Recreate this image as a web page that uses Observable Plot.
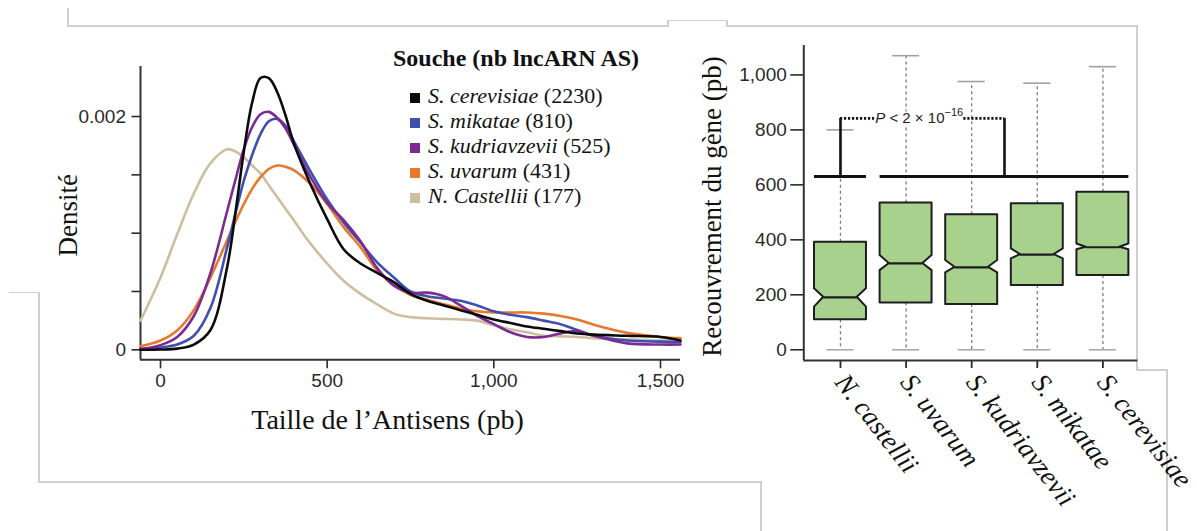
<!DOCTYPE html>
<html><head><meta charset="utf-8">
<script src="https://cdn.jsdelivr.net/npm/d3@7"></script>
<script src="https://cdn.jsdelivr.net/npm/@observablehq/plot@0.6"></script>
<style>
body{margin:0;background:#fff;}
#root{position:relative;width:1197px;height:531px;overflow:hidden;background:#fff;font-family:"Liberation Serif","Times New Roman",serif;color:#111;}
.seg{position:absolute;background:#cfcfcf;}
#left,#right{position:absolute;top:0;}
#left{left:0;}
#right{left:680px;}
#legend{position:absolute;left:393px;top:46px;}
#legend .title{font-weight:bold;font-size:24px;line-height:24px;white-space:nowrap;margin-bottom:13px;}
#legend .row{font-size:22px;line-height:25px;white-space:nowrap;padding-left:17px;}
#legend .sw{display:inline-block;width:10px;height:10px;margin-right:8px;}
#legend i{font-style:italic;}
</style></head><body>
<div id="root"><div id="left"></div><div id="right"></div><div id="legend"></div></div>
<script>
// ---------- Left panel: density of antisense lncRNA length ----------
const lengthGrid = [-60, 0, 50, 100, 150, 200, 225, 250, 275, 300, 325, 350, 375, 400, 450, 500, 550, 600, 650, 700, 750, 800, 850, 900, 950, 1000, 1050, 1100, 1150, 1200, 1250, 1300, 1400, 1500, 1560];
const strains = ["S. cerevisiae", "S. mikatae", "S. kudriavzevii", "S. uvarum", "N. Castellii"];
const strainCounts = [2230, 810, 525, 431, 177];
const strainColors = ["#0b0b0b", "#3f4fae", "#7b2a93", "#e8782c", "#cdbf9e"];
const densityCerevisiae = [0, 0.000002, 0.00001, 0.000045, 0.00017, 0.00071, 0.00118, 0.0017, 0.00212, 0.00233, 0.00233, 0.00221, 0.00201, 0.00177, 0.00142, 0.00112, 0.00086, 0.00074, 0.00066, 0.00058, 0.00048, 0.00042, 0.00038, 0.00034, 0.0003, 0.00026, 0.00023, 0.0002, 0.00018, 0.00016, 0.00014, 0.00013, 0.00012, 0.00011, 0.00008];
const densityMikatae = [0.000006, 0.00002, 0.000045, 0.00012, 0.00036, 0.00088, 0.00117, 0.00145, 0.00167, 0.00185, 0.00196, 0.00198, 0.00192, 0.00179, 0.00153, 0.00129, 0.00109, 0.00092, 0.00075, 0.00062, 0.0005, 0.00046, 0.00044, 0.00042, 0.00038, 0.00033, 0.0003, 0.00028, 0.00025, 0.00022, 0.00017, 0.00012, 0.00008, 0.00007, 0.000065];
const densityKudriavzevii = [0.000006, 0.00004, 0.00011, 0.00029, 0.00066, 0.00119, 0.00146, 0.00172, 0.00191, 0.00202, 0.00204, 0.00199, 0.0019, 0.00176, 0.00148, 0.00126, 0.00111, 0.00093, 0.0007, 0.00055, 0.00049, 0.00049, 0.00046, 0.00038, 0.00029, 0.00022, 0.00015, 0.00011, 0.00011, 0.00014, 0.00016, 0.00012, 0.000055, 0.000045, 0.000045];
const densityUvarum = [0.00003, 0.00008, 0.000166, 0.00034, 0.00062, 0.00094, 0.0011, 0.00125, 0.00138, 0.00148, 0.00155, 0.00158, 0.00157, 0.00154, 0.00142, 0.00125, 0.00105, 0.00088, 0.00068, 0.00056, 0.00047, 0.00043, 0.00039, 0.000355, 0.00033, 0.00032, 0.00032, 0.00032, 0.00031, 0.00029, 0.00026, 0.000215, 0.000145, 0.00011, 0.0001];
const densityCastellii = [0.00025, 0.00062, 0.00099, 0.00134, 0.0016, 0.00172, 0.0017, 0.00165, 0.00158, 0.00151, 0.00141, 0.00131, 0.00121, 0.00111, 0.00091, 0.00074, 0.00059, 0.00048, 0.00039, 0.00031, 0.00028, 0.00027, 0.000265, 0.00026, 0.00025, 0.00021, 0.000175, 0.00015, 0.00012, 0.000115, 0.00011, 0.0001, 0.00009, 0.00008, 0.00008];
const densitySeries = [densityCerevisiae, densityMikatae, densityKudriavzevii, densityUvarum, densityCastellii];
const lengthTicks = [0, 500, 1000, 1500];
const densityTicks = [0, 0.0005, 0.001, 0.0015, 0.002];
const densityTickLabels = ["0", "", "", "", "0.002"];

// ---------- Right panel: gene overlap boxplots ----------
const categories = ["N. castellii", "S. uvarum", "S. kudriavzevii", "S. mikatae", "S. cerevisiae"];
const q1 = [109, 170, 165, 234, 270];
const q3 = [391, 534, 491, 531, 573];
const medians = [191, 314, 300, 346, 373];
const notchLow = [155, 288, 280, 331, 364];
const notchHigh = [222, 343, 325, 367, 385];
const whiskerLow = [0, 0, 0, 0, 0];
const whiskerHigh = [800, 1070, 976, 970, 1030];
const overlapTicks = [0, 200, 400, 600, 800, 1000];
const groupA = [0];
const groupB = [1, 2, 3, 4];
const bracketLevel = 630;
const bracketTop = 842;
const pText = "P < 2 × 10−16";

const SERIF = "'Liberation Serif','Times New Roman',serif";
const SANS = "'Liberation Sans',Arial,Helvetica,sans-serif";

// density rows (drawn tan first, black last)
const drawOrder = [4, 3, 1, 2, 0];
const densityRows = [];
drawOrder.forEach(i => lengthGrid.forEach((x, j) => densityRows.push({strain: strains[i], x, d: densitySeries[i][j]})));

const xDomainL = [-60, 1560];
const yDomainL = [-0.0000857, 0.002429];
const leftPlot = Plot.plot({
  width: 690, height: 531,
  marginLeft: 140, marginRight: 10, marginTop: 66, marginBottom: 171.7,
  style: {background: "transparent", fontFamily: SANS, fontSize: "19px", color: "#2a2a2a", overflow: "visible"},
  x: {domain: xDomainL},
  y: {domain: yDomainL},
  color: {domain: strains, range: strainColors},
  marks: [
    Plot.axisX({ticks: lengthTicks, tickFormat: d3.format(","), tickSize: 9, tickPadding: 5, strokeWidth: 1.6, label: null}),
    Plot.axisY({ticks: densityTicks, tickFormat: d => densityTickLabels[densityTicks.indexOf(d)], tickSize: 8.5, tickPadding: 6, strokeWidth: 1.6, label: null}),
    Plot.ruleX([xDomainL[0]], {stroke: "#333", strokeWidth: 2}),
    Plot.ruleY([yDomainL[0]], {stroke: "#333", strokeWidth: 2}),
    Plot.line(densityRows, {x: "x", y: "d", z: "strain", stroke: "strain", strokeWidth: 2.6, curve: "catmull-rom"}),
    Plot.text(["Densité"], {frameAnchor: "left", textAnchor: "middle", dx: -72, dy: 2, rotate: -90, fontFamily: SERIF, fontSize: 27, fill: "#111"}),
    Plot.text(["Taille de l’Antisens (pb)"], {frameAnchor: "bottom", textAnchor: "middle", dx: -23, dy: 69, fontFamily: SERIF, fontSize: 28, fill: "#111"})
  ]
});
document.getElementById("left").appendChild(leftPlot);

// legend
const legend = document.getElementById("legend");
legend.innerHTML = `<div class="title">Souche (nb lncARN AS)</div>` +
  strains.map((s, i) => `<div class="row"><span class="sw" style="background:${strainColors[i]}"></span><i>${s}</i> (${strainCounts[i]})</div>`).join("");

// boxplot geometry
const boxHalf = 0.396, notchIn = 0.14, capHalf = 0.206;
const boxStats = categories.map((c, i) => ({i, c, q1: q1[i], q3: q3[i], med: medians[i], nLo: notchLow[i], nHi: notchHigh[i], lo: whiskerLow[i], hi: whiskerHigh[i]}));
const boxOutline = boxStats.flatMap(b => [
  {c: b.c, y: b.q1, x1: b.i - boxHalf, x2: b.i + boxHalf},
  {c: b.c, y: b.nLo, x1: b.i - boxHalf, x2: b.i + boxHalf},
  {c: b.c, y: b.med, x1: b.i - boxHalf + notchIn, x2: b.i + boxHalf - notchIn},
  {c: b.c, y: b.nHi, x1: b.i - boxHalf, x2: b.i + boxHalf},
  {c: b.c, y: b.q3, x1: b.i - boxHalf, x2: b.i + boxHalf}
]);
const centerA = d3.mean(groupA), centerB = d3.mean(groupB);
const bracketBars = [
  {x1: d3.min(groupA) - boxHalf, x2: d3.max(groupA) + boxHalf},
  {x1: d3.min(groupB) - boxHalf, x2: d3.max(groupB) + boxHalf}
];
// p-value label sits in a gap of the dotted connector
const pTextCenter = (centerA + centerB) / 2 - 0.05;
const pTextHalfGap = 0.68;
const dottedSegments = [
  {x1: centerA, x2: pTextCenter - pTextHalfGap},
  {x1: pTextCenter + pTextHalfGap, x2: centerB}
];
const catIdx = categories.map((c, i) => i);

const xDomainR = [-0.559, 4.532];
const yDomainR = [-39, 1107];
const rightPlot = Plot.plot({
  width: 517, height: 531,
  marginLeft: 123.3, marginRight: 59.7, marginTop: 45, marginBottom: 171,
  style: {background: "transparent", fontFamily: SANS, fontSize: "19px", color: "#2a2a2a", overflow: "visible"},
  x: {domain: xDomainR},
  y: {domain: yDomainR},
  marks: [
    Plot.axisY({ticks: overlapTicks, tickFormat: d3.format(","), tickSize: 13, tickPadding: 4, strokeWidth: 1.6, label: null}),
    Plot.axisX({ticks: catIdx, tickFormat: () => "", tickSize: 8, strokeWidth: 1.8, label: null}),
    Plot.ruleX([xDomainR[0]], {stroke: "#333", strokeWidth: 2}),
    Plot.ruleY([yDomainR[0]], {stroke: "#333", strokeWidth: 2}),
    // whiskers
    Plot.ruleX(boxStats, {x: "i", y1: "q3", y2: "hi", stroke: "#7a7a7a", strokeWidth: 1.3, strokeDasharray: "3,3"}),
    Plot.ruleX(boxStats, {x: "i", y1: "q1", y2: "lo", stroke: "#7a7a7a", strokeWidth: 1.3, strokeDasharray: "3,3"}),
    Plot.ruleY(boxStats, {y: "hi", x1: d => d.i - capHalf, x2: d => d.i + capHalf, stroke: "#a0a0a0", strokeWidth: 1.6}),
    Plot.ruleY(boxStats, {y: "lo", x1: d => d.i - capHalf, x2: d => d.i + capHalf, stroke: "#a8a8a8", strokeWidth: 1.6}),
    // notched boxes
    Plot.areaX(boxOutline, {y: "y", x1: "x1", x2: "x2", z: "c", fill: "#a9d18e", stroke: "#1e1e1e", strokeWidth: 2, curve: "linear"}),
    Plot.ruleY(boxStats, {y: "med", x1: d => d.i - boxHalf + notchIn, x2: d => d.i + boxHalf - notchIn, stroke: "#1e1e1e", strokeWidth: 2.2}),
    // significance bracket
    Plot.ruleY(bracketBars, {y: () => bracketLevel, x1: "x1", x2: "x2", stroke: "#111", strokeWidth: 3}),
    Plot.ruleX([centerA, centerB], {x: d => d, y1: () => bracketLevel, y2: () => bracketTop, stroke: "#111", strokeWidth: 2.6}),
    Plot.ruleY(dottedSegments, {y: () => bracketTop, x1: "x1", x2: "x2", stroke: "#111", strokeWidth: 2.6, strokeDasharray: "2.2,1.8"}),
    Plot.text([pText], {x: () => pTextCenter, y: () => bracketTop, fontFamily: SANS, fontSize: 15, fill: "#222", stroke: "white", strokeWidth: 3}),
    // labels
    Plot.text(catIdx, {x: d => d, text: d => categories[d], frameAnchor: "bottom", dy: 17, rotate: 52, textAnchor: "start", lineAnchor: "middle", fontFamily: SERIF, fontStyle: "italic", fontSize: 27, fill: "#111"}),
    Plot.text(["Recouvrement du gène (pb)"], {frameAnchor: "left", textAnchor: "middle", dx: -91.6, dy: 3.5, rotate: -90, fontFamily: SERIF, fontSize: 27, fill: "#111"})
  ]
});
document.getElementById("right").appendChild(rightPlot);

// rich text for the p-value (italic P, superscript exponent)
rightPlot.querySelectorAll("text").forEach(t => {
  if (t.textContent === pText) {
    t.innerHTML = `<tspan font-style="italic">P</tspan> &lt; 2 × 10<tspan dy="-7" font-size="11">−16</tspan>`;
  }
});

// decorative slide frame lines
const frameSegments = [
  [68, 9, 68, 26], [68, 26, 668, 26], [668, 20.5, 668, 26], [668, 20.5, 727, 20.5], [727, 20.5, 727, 26],
  [727, 26, 1137, 26], [1137, 26, 1137, 370], [1137, 370, 1167, 370], [1167, 370, 1167, 531],
  [10, 292.5, 39, 292.5], [39, 292.5, 39, 482], [39, 482, 761, 482], [761, 482, 761, 531]
];
const root = document.getElementById("root");
frameSegments.forEach(([x1, y1, x2, y2]) => {
  const s = document.createElement("div");
  s.className = "seg";
  s.style.left = (Math.min(x1, x2) - 0.75) + "px";
  s.style.top = (Math.min(y1, y2) - 0.75) + "px";
  s.style.width = (Math.abs(x2 - x1) + 1.5) + "px";
  s.style.height = (Math.abs(y2 - y1) + 1.5) + "px";
  root.insertBefore(s, root.firstChild);
});
</script>
</body></html>
